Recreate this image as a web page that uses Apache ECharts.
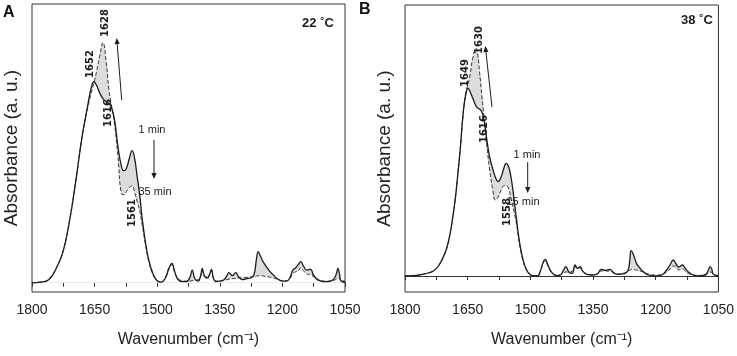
<!DOCTYPE html>
<html>
<head>
<meta charset="utf-8">
<title>FTIR amide band kinetics</title>
<script src="https://cdn.jsdelivr.net/npm/echarts@6/dist/echarts.min.js"></script>
<style>
  html, body { margin: 0; padding: 0; background: #fff; }
  #chart { width: 737px; height: 356px; }
</style>
</head>
<body>
<div id="chart"></div>
<script>
// wavenumbers (cm-1) sampled for panel A, 22 C
const wnA = [1800, 1780, 1760, 1740, 1725, 1710, 1695, 1680, 1667, 1658, 1652, 1646, 1638, 1630, 1622, 1616, 1610, 1602, 1594, 1586,
  1580, 1574, 1567, 1560, 1554, 1548, 1542, 1536, 1528, 1520, 1510, 1500, 1490, 1480, 1472, 1465, 1458, 1450, 1440, 1430,
  1422, 1416, 1410, 1402, 1396, 1392, 1388, 1385, 1380, 1374, 1370, 1365, 1358, 1350, 1340, 1333, 1328, 1320, 1312, 1305,
  1296, 1285, 1275, 1268, 1262, 1258, 1252, 1245, 1235, 1225, 1212, 1200, 1190, 1182, 1175, 1168, 1162, 1156, 1150, 1142,
  1137, 1132, 1126, 1118, 1108, 1095, 1085, 1076, 1070, 1067, 1063, 1059, 1050];
// absorbance after 1 min (solid)
const absA1 = [0, 0.3, 1.5, 8, 16, 31, 51, 73, 88, 97.5, 100.5, 99, 95, 92, 90.5, 89.5, 88, 81, 68, 58.5,
  56, 57, 62, 66, 62, 53, 44, 32, 20, 11, 4.5, 1, 0.3, 2.5, 7, 9.7, 5.5, 1.5, 0.5, 0.5,
  2.5, 6.3, 2, 0.8, 3.5, 7.2, 4, 3, 2.5, 4.5, 6.7, 2, 0.5, 0.8, 1.5, 3.5, 5, 3.5, 5, 3,
  1.5, 2, 2.5, 4, 12, 15.5, 13, 10, 7, 4.5, 2, 0.8, 0.8, 2.5, 6.3, 7.5, 9, 10.5, 8.5, 6.3,
  6.5, 6.7, 4, 2, 0.8, 0.5, 0.8, 2, 5, 7.2, 4, 0.8, 0.5];
// absorbance after 35 min (dashed)
const absA35 = [0, 0.3, 1.5, 8, 16, 31, 51, 73, 87, 95, 99.5, 105, 113, 120, 110, 97, 89, 79, 63, 44.5,
  44, 45.5, 47.5, 48.5, 45, 40.5, 36, 29, 19, 10.5, 4, 1, 0.5, 3, 7.5, 9, 5, 2, 1, 0.8,
  0.8, 1, 1.2, 1.5, 3, 6, 3.5, 2.5, 2, 4, 6, 2, 0.8, 0.8, 1.2, 1.5, 1.8, 2, 2.2, 2.4,
  2.5, 2.7, 2.9, 3, 3.3, 3.5, 3.5, 3.3, 3, 2.5, 1.8, 1, 1, 2, 4.5, 5.5, 6, 7.5, 6, 4.5,
  4, 4.5, 3, 1.5, 1, 0.8, 0.8, 1.2, 2, 2.5, 2, 1, 0.8];

// wavenumbers (cm-1) sampled for panel B, 38 C
const wnB = [1800, 1780, 1760, 1745, 1732, 1720, 1708, 1700, 1692, 1686, 1680, 1674, 1668, 1660, 1654, 1649, 1644, 1638, 1630, 1626,
  1622, 1616, 1610, 1604, 1598, 1590, 1584, 1577, 1570, 1564, 1558, 1552, 1546, 1540, 1534, 1526, 1518, 1510, 1500, 1490,
  1483, 1476, 1470, 1465, 1458, 1452, 1444, 1436, 1428, 1421, 1415, 1408, 1400, 1393, 1387, 1381, 1375, 1365, 1350, 1340,
  1330, 1320, 1310, 1300, 1290, 1275, 1266, 1262, 1259, 1254, 1246, 1238, 1230, 1218, 1200, 1185, 1174, 1166, 1158, 1150,
  1145, 1136, 1130, 1122, 1110, 1094, 1080, 1074, 1070, 1066, 1062, 1050];
// absorbance after 1 min (solid)
const absB1 = [0, 0.2, 0.8, 1.5, 2.5, 5, 9.7, 14, 21.3, 29, 38, 50, 63, 83, 91.3, 93.8, 92, 89, 85, 84,
  83.5, 82, 77, 68, 60, 53.5, 49.5, 47.2, 49.5, 53.5, 56.3, 54.5, 49, 40, 29.7, 17, 8.5, 3.5, 0.6, 0.1,
  0, 2.5, 6.5, 8.3, 5.5, 2.8, 0.8, 0.2, 0.5, 2.8, 4.7, 2, 1.3, 5.5, 3.8, 4.7, 2.5, 0.8, 0.5, 1,
  3.3, 2.8, 3.3, 1.5, 0.8, 1.2, 3, 8, 12.7, 11, 6.3, 4, 2.2, 0.5, 0, 0.5, 3, 5.5, 8, 5.5,
  4.5, 5.5, 4, 2, 0.5, 0, 0.8, 3, 4.7, 3.5, 0.8, 0];
// absorbance after 15 min (dashed)
const absB15 = [0, 0.2, 0.8, 1.5, 2.5, 5, 9.7, 14, 21.3, 29, 38, 50, 63, 83, 92.5, 96, 101, 108.8, 113.8, 111,
  103, 90, 78, 65, 54, 43, 38, 39.5, 43, 45, 45.3, 43.5, 38.5, 33, 27, 16, 8, 3.2, 0.6, 0.2,
  0.2, 2.5, 6, 7.5, 5, 2.5, 0.8, 0.5, 0.7, 1.5, 2, 1.8, 2.5, 4.5, 4.2, 4, 2.5, 1, 0.7, 1,
  2.5, 2.5, 2.5, 1.5, 1, 1.5, 2.5, 3, 3.2, 3.2, 3, 2.5, 2, 1, 0.5, 0.8, 2, 3.5, 5, 4,
  3, 3.5, 2.5, 1.2, 0.5, 0.3, 0.5, 1.5, 2, 1.8, 0.8, 0.3];

const tickLabels = ['1800', '1650', '1500', '1350', '1200', '1050'];

const ink = '#1c1c1c';

function pairs(xs, ys) { return xs.map((x, i) => [x, ys[i]]); }
function upperOf(a, b) { return a.map((v, i) => Math.max(v, b[i])); }
function lowerOf(a, b) { return a.map((v, i) => Math.min(v, b[i])); }

function xAxisFor(gridIndex) {
  return {
    type: 'value', gridIndex: gridIndex, min: 1050, max: 1800, interval: 75, inverse: true,
    axisLine: { show: true, lineStyle: { color: '#333', width: 1 } },
    axisTick: { show: true, inside: false, length: 4, lineStyle: { color: '#333' } },
    splitLine: { show: false },
    axisLabel: {
      margin: 11, color: '#222', fontFamily: 'Liberation Sans', fontSize: 14,
      formatter: v => tickLabels.indexOf(String(v)) >= 0 ? String(v) : ''
    },
    name: 'Wavenumber (cm\u207B\u00B9)', nameLocation: 'middle', nameGap: 40,
    nameTextStyle: { fontFamily: 'Liberation Sans', fontSize: 16, color: '#222' }
  };
}

function yAxisFor(gridIndex, min, max) {
  return {
    type: 'value', gridIndex: gridIndex, min: min, max: max,
    axisLine: { show: false }, axisTick: { show: false }, axisLabel: { show: false },
    splitLine: { show: false },
    name: 'Absorbance (a. u.)', nameLocation: 'middle', nameGap: 11, nameRotate: 90,
    nameTextStyle: { fontFamily: 'Liberation Sans', fontSize: 19, color: '#222' }
  };
}

function panelSeries(idx, wn, early, late) {
  const common = { type: 'line', xAxisIndex: idx, yAxisIndex: idx, smooth: 0.45,
    showSymbol: false, symbol: 'none', silent: true, animation: false };
  return [
    Object.assign({}, common, { data: pairs(wn, upperOf(early, late)), lineStyle: { width: 0 },
      areaStyle: { color: '#dcdcdc', opacity: 1 }, z: 1 }),
    Object.assign({}, common, { data: pairs(wn, lowerOf(early, late)), lineStyle: { width: 0 },
      areaStyle: { color: '#ffffff', opacity: 1 }, z: 2 }),
    Object.assign({}, common, { data: pairs(wn, late), lineStyle: { color: '#333', width: 1, type: [4, 2] }, z: 3 }),
    Object.assign({}, common, { data: pairs(wn, early), lineStyle: { color: ink, width: 1.3 }, z: 4 })
  ];
}

function label(text, x, y, font, rotate) {
  return { type: 'text', x: x, y: y, rotation: rotate ? Math.PI / 2 : 0, z: 10,
    style: { text: text, font: font, fill: ink, align: 'center', verticalAlign: 'middle' } };
}

function arrow(x1, y1, x2, y2) {
  const a = Math.atan2(y2 - y1, x2 - x1), L = 6, W = 2.6;
  const bx = x2 - L * Math.cos(a), by = y2 - L * Math.sin(a);
  const nx = -Math.sin(a) * W, ny = Math.cos(a) * W;
  return [
    { type: 'line', z: 10, shape: { x1: x1, y1: y1, x2: bx, y2: by }, style: { stroke: ink, lineWidth: 1 } },
    { type: 'polygon', z: 10, shape: { points: [[x2, y2], [bx + nx, by + ny], [bx - nx, by - ny]] }, style: { fill: ink } }
  ];
}

const peakFont = 'bold 10px "DejaVu Sans"';
const minFont = '11px "Liberation Sans Narrow", "Liberation Sans"';
const tempFont = 'bold 13px "Liberation Sans Narrow", "Liberation Sans"';
const panelFont = 'bold 16px "Liberation Sans"';

const chart = echarts.init(document.getElementById('chart'));
chart.setOption({
  animation: false,
  backgroundColor: '#fff',
  grid: [
    { left: 32, top: 4, width: 313, height: 288, show: true, borderColor: '#333', borderWidth: 1 },
    { left: 405, top: 5, width: 314, height: 287, show: true, borderColor: '#333', borderWidth: 1 }
  ],
  xAxis: [xAxisFor(0), xAxisFor(1)],
  yAxis: [yAxisFor(0, -4.65, 139.35), yAxisFor(1, -8, 135.5)],
  series: panelSeries(0, wnA, absA1, absA35).concat(panelSeries(1, wnB, absB1, absB15)),
  graphic: [
    { type: 'text', x: 3, y: 5, z: 10, style: { text: 'A', font: panelFont, fill: '#111' } },
    { type: 'text', x: 359, y: 2, z: 10, style: { text: 'B', font: panelFont, fill: '#111' } },
    label('22 \u02DAC', 318, 23, tempFont),
    label('38 \u02DAC', 697, 20, tempFont),
    label('1652', 90, 64, peakFont, true),
    label('1628', 105, 23, peakFont, true),
    label('1616', 108, 113, peakFont, true),
    label('1561', 132, 213, peakFont, true),
    label('1 min', 152, 130, minFont),
    label('35 min', 155, 192, minFont),
    label('1649', 465, 73, peakFont, true),
    label('1630', 479, 40, peakFont, true),
    label('1616', 484, 129, peakFont, true),
    label('1558', 507, 212, peakFont, true),
    label('1 min', 527, 155, minFont),
    label('15 min', 523, 202, minFont)
  ].concat(arrow(121.7, 100, 116.7, 38), arrow(154, 140, 154, 179),
           arrow(492, 107, 485.3, 46), arrow(527.7, 162, 527.7, 193))
});
</script>
</body>
</html>
